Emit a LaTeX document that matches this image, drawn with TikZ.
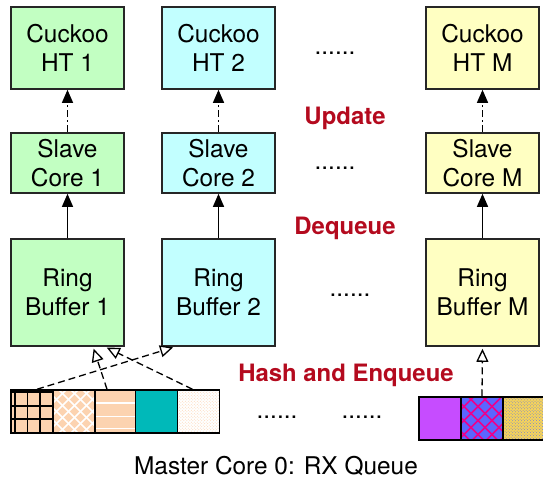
\documentclass[tikz,border=0pt]{standalone}
\usepackage{fontspec}
\setmainfont{TeX Gyre Heros}
\usetikzlibrary{arrows.meta,patterns}

\definecolor{boxgreen}{HTML}{C2FFC2}
\definecolor{boxcyan}{HTML}{C2FFFF}
\definecolor{boxyellow}{HTML}{FFFFC2}
\definecolor{stepred}{HTML}{B40A1E}
\definecolor{peach}{HTML}{FCD3B0}
\definecolor{qteal}{HTML}{00B9B9}
\definecolor{qpurple}{HTML}{C64CFF}
\definecolor{qblue}{HTML}{5A66FF}
\definecolor{qyellow}{HTML}{F6D45A}
\definecolor{qslate}{HTML}{7C86C8}

\begin{document}
\begin{tikzpicture}[
  x=1bp, y=-1bp,
  every node/.style = {font=\fontsize{24.5}{29.5}\selectfont},
  unit/.style  = {draw=black!85, line width=1.6bp, minimum width=113bp,
                  align=center, inner sep=0pt},
  htbox/.style = {unit, minimum height=82bp},
  scbox/.style = {unit, minimum height=60bp},
  rbbox/.style = {unit, minimum height=107bp},
  stage/.style = {font=\fontsize{24}{29}\selectfont\bfseries, text=stepred},
  cell/.style  = {draw=black, line width=1.5bp, minimum width=42bp,
                  minimum height=43bp, inner sep=0pt},
  deq/.style   = {-{Triangle[length=13bp,width=11bp]}, line width=1.3bp},
  upd/.style   = {deq, dash pattern=on 7bp off 3bp on 2bp off 3bp},
  enq/.style   = {-{Triangle[open,length=13bp,width=12bp,fill=white]},
                  dash pattern=on 7bp off 4bp, line width=1.3bp, shorten >=2bp},
]

%% ── Frame ────────────────────────────────────────────────────────────────────
\useasboundingbox (0,0) rectangle (543,482);

%% ── Cuckoo hash tables ───────────────────────────────────────────────────────
\node[htbox, fill=boxgreen]  (ht1) at (67.5,48)  {Cuckoo\\HT 1};
\node[htbox, fill=boxcyan]   (ht2) at (218.5,48) {Cuckoo\\HT 2};
\node[htbox, fill=boxyellow] (htm) at (482.5,48) {Cuckoo\\HT M};

%% ── Slave cores ──────────────────────────────────────────────────────────────
\node[scbox, fill=boxgreen]  (sc1) at (67.5,163)  {Slave\\Core 1};
\node[scbox, fill=boxcyan]   (sc2) at (218.5,163) {Slave\\Core 2};
\node[scbox, fill=boxyellow] (scm) at (482.5,163) {Slave\\Core M};

%% ── Ring buffers ─────────────────────────────────────────────────────────────
\node[rbbox, fill=boxgreen]  (rb1) at (67.5,292.5)  {Ring\\Buffer 1};
\node[rbbox, fill=boxcyan]   (rb2) at (218.5,292.5) {Ring\\Buffer 2};
\node[rbbox, fill=boxyellow] (rbm) at (482.5,292.5) {Ring\\Buffer M};

%% ── Dequeue / update arrows ──────────────────────────────────────────────────
\foreach \k in {1,2,m}{
  \draw[deq] (rb\k.north) -- (sc\k.south);
  \draw[upd] (sc\k.north) -- (ht\k.south);
}

%% ── Stage labels and gaps ────────────────────────────────────────────────────
\node[stage] (lupd) at (345,118) {Update};
\node[stage] (ldeq) at (345,228) {Dequeue};
\node[stage] (lenq) at (346,375) {Hash and Enqueue};

\node (dht) at (335,53)  {......};
\node (dsc) at (335,168) {......};
\node (drb) at (350,295) {......};
\node (dq1) at (277,417) {......};
\node (dq2) at (362,417) {......};

%% ── RX queue, left part ──────────────────────────────────────────────────────
\node[cell, fill=peach, path picture={
    \foreach \d in {-17,-4.5,8}
      \draw[line width=1.4bp] ([xshift=\d bp]path picture bounding box.north)
        -- ([xshift=\d bp]path picture bounding box.south);
    \foreach \d in {19.5,5.5,-7.5}
      \draw[line width=1.4bp] ([yshift=\d bp]path picture bounding box.west)
        -- ([yshift=\d bp]path picture bounding box.east);
  }] (q1) at (32,411.5) {};
\node[cell, fill=peach, path picture={
    \foreach \d in {-60,-48,...,60}{
      \draw[white, line width=1.6bp]
        ([shift={(\d bp,-30bp)}]path picture bounding box.center) -- ++(60bp,60bp);
      \draw[white, line width=1.6bp]
        ([shift={(\d bp,-30bp)}]path picture bounding box.center) -- ++(-60bp,60bp);
    }
  }] (q2) at (74.5,411.5) {};
\node[cell, fill=peach, path picture={
    \foreach \d in {8.5,-5,-17}
      \draw[white, line width=1.6bp] ([yshift=\d bp]path picture bounding box.west)
        -- ([yshift=\d bp]path picture bounding box.east);
  }] (q3) at (116,411.5) {};
\node[cell, fill=qteal] (q4) at (156.5,411.5) {};
\node[cell, fill=white, path picture={
    \fill[pattern=crosshatch dots, pattern color=peach]
      (path picture bounding box.south west) rectangle (path picture bounding box.north east);
  }] (q5) at (198.5,411.5) {};

%% ── RX queue, right part ─────────────────────────────────────────────────────
\node[cell, fill=qpurple] (qm1) at (440,418.5) {};
\node[cell, fill=qblue, path picture={
    \foreach \d in {-60,-46,...,60}{
      \draw[magenta, line width=1.5bp]
        ([shift={(\d bp,-30bp)}]path picture bounding box.center) -- ++(60bp,60bp);
      \draw[magenta, line width=1.5bp]
        ([shift={(\d bp,-30bp)}]path picture bounding box.center) -- ++(-60bp,60bp);
    }
  }] (qm2) at (482,418.5) {};
\node[cell, fill=qyellow, path picture={
    \fill[pattern=crosshatch dots, pattern color=qslate]
      (path picture bounding box.south west) rectangle (path picture bounding box.north east);
  }] (qm3) at (524,418.5) {};

%% ── Hash and enqueue arrows ──────────────────────────────────────────────────
\draw[enq] ([xshift=-9bp]q3.north) -- ([xshift=25.5bp]rb1.south);
\draw[enq] ([xshift=-6bp]q5.north) -- ([xshift=37.5bp]rb1.south);
\draw[enq] ([xshift=5bp]q1.north)  -- ([xshift=-43.5bp]rb2.south);
\draw[enq] (qm2.north) -- (rbm.south);

%% ── Caption ──────────────────────────────────────────────────────────────────
\node (cap) at (276,466) {Master Core 0: RX Queue};

\end{tikzpicture}
\end{document}
